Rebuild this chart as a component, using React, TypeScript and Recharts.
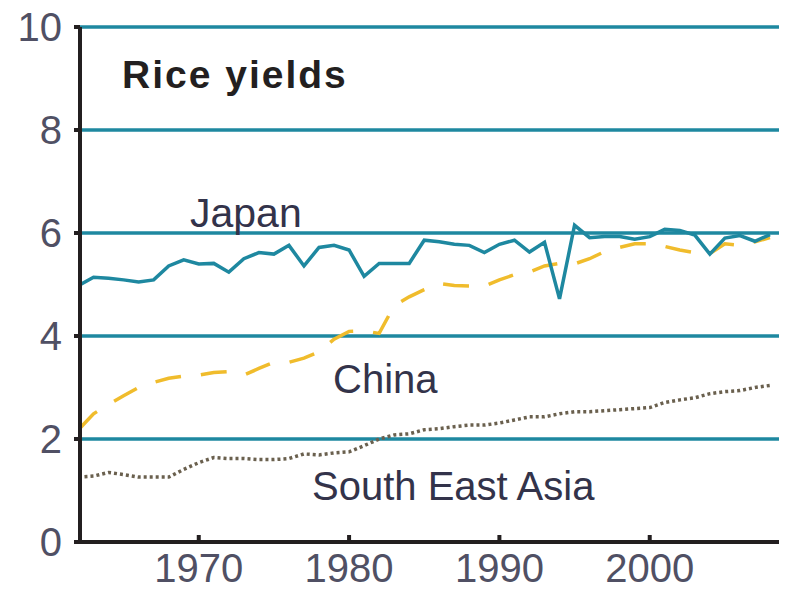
import React from "react";
import { LineChart, Line, XAxis, YAxis, CartesianGrid } from "recharts";

const years = [
  1962, 1963, 1964, 1965, 1966, 1967, 1968, 1969, 1970, 1971, 1972, 1973,
  1974, 1975, 1976, 1977, 1978, 1979, 1980, 1981, 1982, 1983, 1984, 1985,
  1986, 1987, 1988, 1989, 1990, 1991, 1992, 1993, 1994, 1995, 1996, 1997,
  1998, 1999, 2000, 2001, 2002, 2003, 2004, 2005, 2006, 2007, 2008,
];

const japan = [
  4.98, 5.14, 5.12, 5.09, 5.05, 5.09, 5.36, 5.48, 5.4, 5.41, 5.24, 5.5,
  5.62, 5.59, 5.76, 5.36, 5.72, 5.76, 5.67, 5.16, 5.41, 5.41, 5.41, 5.86,
  5.83, 5.78, 5.76, 5.62, 5.78, 5.86, 5.63, 5.82, 4.72, 6.15, 5.91, 5.93,
  5.93, 5.88, 5.93, 6.07, 6.05, 5.96, 5.59, 5.9, 5.95, 5.84, 5.97,
];

const china = [
  2.18, 2.49, 2.67, 2.84, 3.0, 3.1, 3.18, 3.22, 3.24, 3.29, 3.31, 3.24,
  3.37, 3.49, 3.49, 3.57, 3.69, 3.94, 4.09, 4.1, 4.05, 4.59, 4.76, 4.9,
  5.02, 4.98, 4.97, 4.97, 5.09, 5.19, 5.24, 5.36, 5.41, 5.4, 5.5, 5.64,
  5.72, 5.79, 5.79, 5.74, 5.67, 5.62, 5.6, 5.79, 5.76, 5.83, 5.91,
];

const southEastAsia = [
  1.26, 1.28, 1.35, 1.31, 1.26, 1.26, 1.26, 1.41, 1.54, 1.64, 1.62, 1.62,
  1.6, 1.6, 1.62, 1.71, 1.69, 1.73, 1.75, 1.87, 2.0, 2.08, 2.1, 2.18,
  2.2, 2.24, 2.27, 2.27, 2.31, 2.37, 2.43, 2.43, 2.49, 2.53, 2.53, 2.55,
  2.57, 2.59, 2.61, 2.71, 2.76, 2.8, 2.88, 2.92, 2.94, 3.0, 3.04,
];

const xTicks = [1970, 1980, 1990, 2000];
const yTicks = [0, 2, 4, 6, 8, 10];

const title = "Rice yields";
const seriesLabels = { japan: "Japan", china: "China", sea: "South East Asia" };

const data = years.map((y, i) => ({
  year: y,
  japan: japan[i],
  china: china[i],
  sea: southEastAsia[i],
}));

const FONT = "'Liberation Sans', Arial, Helvetica, sans-serif";
const TEAL = "#1e88a0";
const AXIS = "#231f20";

export default function App() {
  return (
    <div style={{ position: "absolute", left: 0, top: 0, width: 788, height: 592, background: "#fff" }}>
      <LineChart
        width={788}
        height={592}
        data={data}
        margin={{ top: 27, right: 9, bottom: 0, left: 0 }}
      >
        <CartesianGrid
          vertical={false}
          horizontal={true}
          stroke={TEAL}
          strokeWidth={3.5}
        />
        <XAxis
          dataKey="year"
          type="number"
          domain={[1962.1, 2008.6]}
          allowDataOverflow={true}
          ticks={xTicks}
          height={50}
          axisLine={{ stroke: AXIS, strokeWidth: 4 }}
          tickLine={{ stroke: AXIS, strokeWidth: 4 }}
          tickSize={-7}
          tickMargin={19}
          tick={{ fill: "#505064", fontSize: 40, fontFamily: FONT }}
          interval={0}
        />
        <YAxis
          type="number"
          domain={[0, 10]}
          ticks={yTicks}
          width={80}
          axisLine={{ stroke: AXIS, strokeWidth: 4 }}
          tickLine={{ stroke: AXIS, strokeWidth: 4 }}
          tickSize={6}
          tickMargin={12}
          tick={{ fill: "#505064", fontSize: 40, fontFamily: FONT }}
          interval={0}
        />
        <Line
          type="linear"
          dataKey="china"
          stroke="#f0bc2c"
          strokeWidth={3.5}
          strokeDasharray="26 20"
          dot={false}
          activeDot={false}
          isAnimationActive={false}
        />
        <Line
          type="linear"
          dataKey="sea"
          stroke="#6a604e"
          strokeWidth={3.5}
          strokeDasharray="3 3"
          dot={false}
          activeDot={false}
          isAnimationActive={false}
        />
        <Line
          type="linear"
          dataKey="japan"
          stroke={TEAL}
          strokeWidth={3.5}
          dot={false}
          activeDot={false}
          isAnimationActive={false}
        />
      </LineChart>
      <svg
        width={788}
        height={592}
        style={{ position: "absolute", left: 0, top: 0, pointerEvents: "none" }}
      >
        <text x={122} y={88} fontFamily={FONT} fontSize={39} fontWeight="bold" fill="#231f20" letterSpacing={2}>
          {title}
        </text>
        <text x={190} y={227} fontFamily={FONT} fontSize={41} fill="#33334a">
          {seriesLabels.japan}
        </text>
        <text x={333} y={393} fontFamily={FONT} fontSize={40} fill="#33334a">
          {seriesLabels.china}
        </text>
        <text x={312} y={500} fontFamily={FONT} fontSize={40} fill="#33334a">
          {seriesLabels.sea}
        </text>
      </svg>
    </div>
  );
}
